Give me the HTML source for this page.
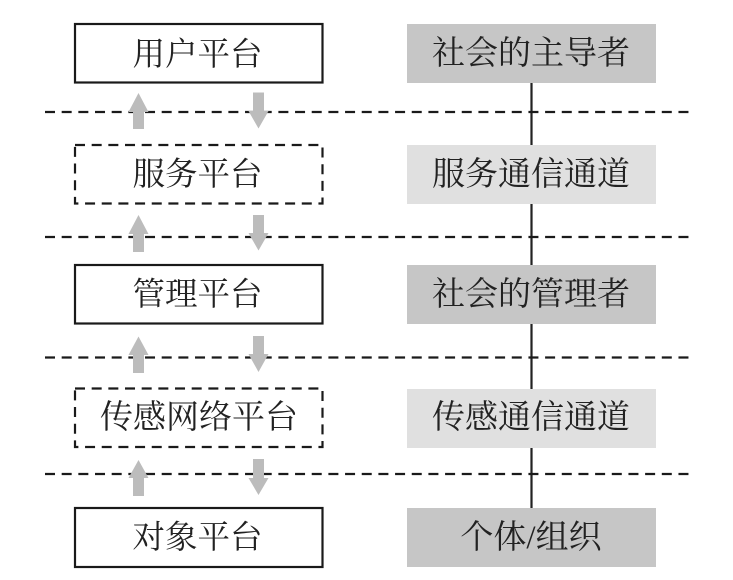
<!DOCTYPE html>
<html><head><meta charset="utf-8"><style>
html,body{margin:0;padding:0;background:#fff}
svg{display:block}
text{font-family:"Liberation Serif","Noto Serif CJK SC",serif;font-size:33px;fill:#222;text-anchor:middle}
text.s{font-size:32.500px}
</style></head><body>
<svg width="733" height="580" viewBox="0 0 733 580" xmlns="http://www.w3.org/2000/svg">
<rect x="407" y="24" width="249" height="59" fill="#c6c6c6"/>
<rect x="407" y="145" width="249" height="59" fill="#e0e0e0"/>
<rect x="407" y="265" width="249" height="59" fill="#c6c6c6"/>
<rect x="407" y="389" width="249" height="59" fill="#e0e0e0"/>
<rect x="407" y="508" width="249" height="59" fill="#c6c6c6"/>
<g stroke="#222" stroke-width="2.200" fill="none">
<line x1="531.500" y1="83" x2="531.500" y2="145"/>
<line x1="531.500" y1="204" x2="531.500" y2="265"/>
<line x1="531.500" y1="324" x2="531.500" y2="389"/>
<line x1="531.500" y1="448" x2="531.500" y2="508"/>
</g>
<g stroke="#1a1a1a" stroke-width="2.200" fill="none" stroke-dasharray="10 6.67">
<line x1="45" y1="112" x2="689" y2="112"/>
<line x1="45" y1="237" x2="689" y2="237"/>
<line x1="45" y1="357.500" x2="689" y2="357.500"/>
<line x1="45" y1="474" x2="689" y2="474"/>
</g>
<g fill="#bcbcbc">
<polygon points="138.500,93 148.500,112 144,112 144,129 133,129 133,112 128.500,112"/>
<polygon points="253,92.500 264,92.500 264,111 268.500,111 258.500,128.500 248.500,111 253,111"/>
<polygon points="138.500,215 148.500,234 144,234 144,252 133,252 133,234 128.500,234"/>
<polygon points="253,215 264,215 264,233 268.500,233 258.500,250.500 248.500,233 253,233"/>
<polygon points="138.500,336.500 148.500,355 144,355 144,373 133,373 133,355 128.500,355"/>
<polygon points="253,336 264,336 264,354 268.500,354 258.500,372 248.500,354 253,354"/>
<polygon points="138.500,460 148.500,478 144,478 144,496 133,496 133,478 128.500,478"/>
<polygon points="253,459 264,459 264,478 268.500,478 258.500,495 248.500,478 253,478"/>
</g>
<g fill="#fff" stroke="#1a1a1a" stroke-width="2.200">
<rect x="75" y="24" width="247.500" height="58.500"/>
<rect x="75" y="265" width="247.500" height="58.500"/>
<rect x="75" y="508" width="247.500" height="59"/>
</g>
<g fill="none" stroke="#1a1a1a" stroke-width="2.200" stroke-dasharray="10 6.67">
<rect x="75" y="145" width="247.500" height="58.500"/>
<rect x="75" y="388.500" width="247.500" height="58.500"/>
</g>
<text class="s" x="197.500" y="65">用户平台</text>
<text class="s" x="197.500" y="185">服务平台</text>
<text class="s" x="197.500" y="305">管理平台</text>
<text x="199" y="428">传感网络平台</text>
<text class="s" x="197.500" y="548">对象平台</text>
<text x="531" y="64">社会的主导者</text>
<text x="531" y="185">服务通信通道</text>
<text x="531" y="305">社会的管理者</text>
<text x="531" y="428">传感通信通道</text>
<text x="531" y="548">个体/组织</text>
</svg>
</body></html>
